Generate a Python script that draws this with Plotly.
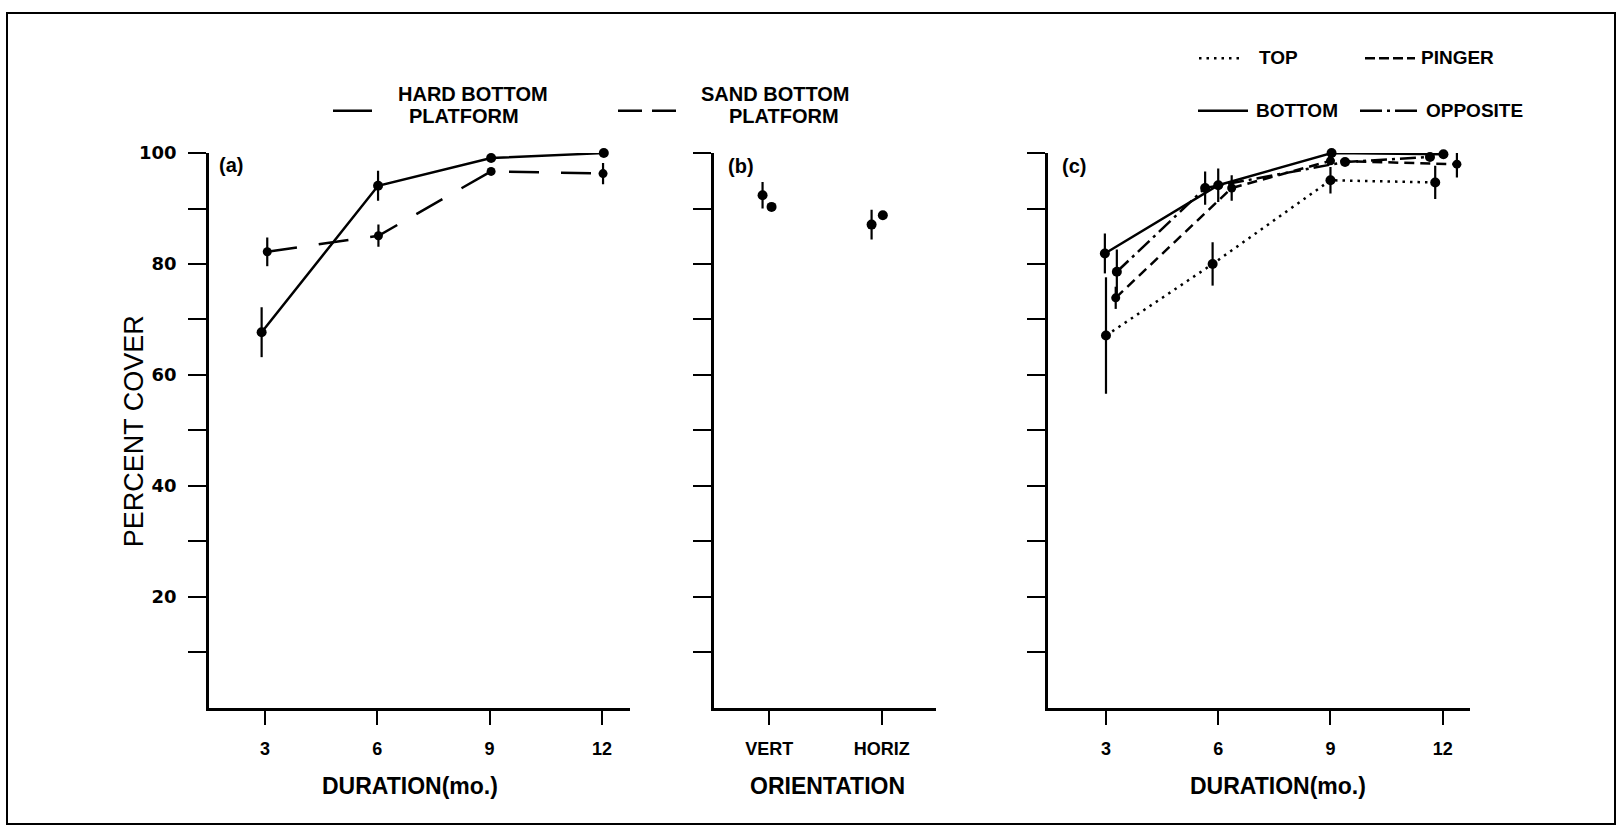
import plotly.graph_objects as go

W, H = 1621, 828

# ---- data -------------------------------------------------------------
duration = [3, 6, 9, 12]

# (a) cover by exposure duration for the two platforms
hard_cover = [67.7, 94.1, 99.1, 100.0]
hard_err = [4.5, 2.7, 0.0, 0.0]
sand_cover = [82.2, 85.1, 96.7, 96.3]
sand_err = [2.6, 2.0, 0.0, 1.9]

# (b) cover by panel orientation
orientation = ["VERT", "HORIZ"]
orient_hard_cover = [92.4, 87.1]
orient_hard_err = [2.4, 2.7]
orient_sand_cover = [90.3, 88.8]
orient_sand_err = [0.0, 0.0]

# (c) cover by position on the platform
top_cover = [67.1, 80.0, 95.1, 94.7]
top_err = [10.5, 3.9, 2.4, 3.0]
bottom_cover = [81.9, 94.2, 100.0, 99.8]
bottom_err = [3.6, 3.0, 0.0, 0.0]
pinger_cover = [73.9, 93.7, 98.6, 98.0]
pinger_err = [2.0, 2.3, 0.0, 2.4]
opposite_cover = [78.6, 93.7, 98.4, 99.3]
opposite_err = [4.0, 3.0, 0.0, 0.0]

y_tick_values = [10, 20, 30, 40, 50, 60, 70, 80, 90, 100]
y_tick_labels = ["", "20", "", "40", "", "60", "", "80", "", "100"]
x_tick_values = [3, 6, 9, 12]

# ---- styling ----------------------------------------------------------
INK = "black"
LW = 2.5
SANS = "Liberation Sans, Arial, sans-serif"
WIDE = "DejaVu Sans, Verdana, sans-serif"

# small horizontal dodges so overlapping means stay visible
dodge_a = {"hard": [-0.09, 0.02, 0.04, 0.05], "sand": [0.06, 0.03, 0.04, 0.03]}
dodge_b = {"hard": [-0.06, -0.09], "sand": [0.02, 0.01]}
dodge_c = {
    "top": [0.0, -0.15, 0.0, -0.2],
    "bottom": [-0.03, 0.0, 0.03, 0.02],
    "pinger": [0.26, 0.36, 0.0, 0.38],
    "opposite": [0.29, -0.35, 0.39, -0.34],
}


def shift(xs, d):
    return [x + o for x, o in zip(xs, d)]


def series(x, y, err, dash, xa, ya, size=10, mode="lines+markers"):
    return go.Scatter(
        x=x, y=y, mode=mode, xaxis=xa, yaxis=ya,
        line=dict(color=INK, width=LW, dash=dash),
        marker=dict(color=INK, size=size),
        error_y=dict(type="data", array=err, thickness=2.2, width=0, color=INK),
        cliponaxis=False, showlegend=False,
    )


fig = go.Figure()

# (a)
fig.add_trace(series(shift(duration, dodge_a["hard"]), hard_cover, hard_err, "solid", "x", "y"))
fig.add_trace(series(shift(duration, dodge_a["sand"]), sand_cover, sand_err, "30px,22px", "x", "y", size=9))

# (b)
cat_pos = list(range(len(orientation)))
fig.add_trace(series(shift(cat_pos, dodge_b["hard"]), orient_hard_cover, orient_hard_err, "solid", "x2", "y2", mode="markers"))
fig.add_trace(series(shift(cat_pos, dodge_b["sand"]), orient_sand_cover, orient_sand_err, "solid", "x2", "y2", mode="markers"))

# (c)
fig.add_trace(series(shift(duration, dodge_c["top"]), top_cover, top_err, "2.5px,5px", "x3", "y3"))
fig.add_trace(series(shift(duration, dodge_c["pinger"]), pinger_cover, pinger_err, "10px,6px", "x3", "y3", size=9))
fig.add_trace(series(shift(duration, dodge_c["opposite"]), opposite_cover, opposite_err, "16px,5px,3px,5px", "x3", "y3"))
fig.add_trace(series(shift(duration, dodge_c["bottom"]), bottom_cover, bottom_err, "solid", "x3", "y3"))


def px(x):
    return x / W


def py(y):
    return 1 - y / H


ydom = [py(706), py(144)]
axis_common = dict(
    showline=True, linecolor=INK, linewidth=LW, mirror=False,
    ticks="outside", tickcolor=INK, tickwidth=2,
    showgrid=False, zeroline=False, fixedrange=True,
)
yaxis_common = dict(
    axis_common, range=[0, 100], domain=ydom, tickvals=y_tick_values,
    ticklen=18, ticktext=[""] * len(y_tick_values),
    tickfont=dict(family=WIDE, size=18, color=INK, weight="bold"),
    ticklabelstandoff=8,
)
xaxis_common = dict(
    axis_common, ticklen=15, ticklabelstandoff=8,
    tickfont=dict(family=SANS, size=18, color=INK, weight="bold"),
)

fig.update_layout(
    width=W, height=H,
    margin=dict(l=0, r=0, t=0, b=0),
    paper_bgcolor="white", plot_bgcolor="white",
    xaxis=dict(xaxis_common, domain=[px(209), px(630)], range=[1.504, 12.75],
               tickvals=x_tick_values, anchor="y"),
    yaxis=dict(yaxis_common, ticktext=y_tick_labels, anchor="x"),
    xaxis2=dict(xaxis_common, domain=[px(714), px(936)], range=[-0.492, 1.483],
                tickvals=cat_pos, ticktext=orientation, anchor="y2"),
    yaxis2=dict(yaxis_common, anchor="x2"),
    xaxis3=dict(xaxis_common, domain=[px(1048), px(1470)], range=[1.45, 12.73],
                tickvals=x_tick_values, anchor="y3"),
    yaxis3=dict(yaxis_common, anchor="x3"),
)

ann = []


def text(x, y, s, size, family=SANS, bold=True, xanchor="center", angle=0):
    ann.append(dict(
        x=px(x), y=py(y), xref="paper", yref="paper", text=s, showarrow=False,
        xanchor=xanchor, yanchor="middle", textangle=angle,
        font=dict(family=family, size=size, color=INK, weight="bold" if bold else "normal"),
    ))


# axis titles
text(410, 785, "DURATION(mo.)", 23)
text(827, 785, "ORIENTATION", 23)
text(1278, 785, "DURATION(mo.)", 23)
text(134, 426, "PERCENT COVER", 27, bold=False, angle=-90)

# panel letters
text(217, 156, "(a)", 20, xanchor="left")
text(726, 157, "(b)", 20, xanchor="left")
text(1060, 157, "(c)", 20, xanchor="left")

# platform key
text(473, 84, "HARD BOTTOM", 20)
text(464, 106, "PLATFORM", 20)
text(775, 84, "SAND BOTTOM", 20)
text(784, 106, "PLATFORM", 20)

# position key
text(1257, 47, "TOP", 19, xanchor="left")
text(1419, 47, "PINGER", 19, xanchor="left")
text(1254, 101, "BOTTOM", 19, xanchor="left")
text(1424, 101, "OPPOSITE", 19, xanchor="left")

shapes = []


def key_line(x0, x1, y, dash):
    shapes.append(dict(type="line", xref="paper", yref="paper",
                       x0=px(x0), x1=px(x1), y0=py(y), y1=py(y),
                       line=dict(color=INK, width=LW, dash=dash)))


key_line(333, 372, 101, "solid")
key_line(618, 685, 101, "24px,10px")
key_line(1199, 1242, 48, "2.5px,5px")
key_line(1365, 1415, 48, "10px,4px")
key_line(1198, 1248, 101, "solid")
key_line(1360, 1417, 101, "22px,5px,3px,5px")

# outer frame
shapes.append(dict(type="rect", xref="paper", yref="paper",
                   x0=px(7), x1=px(1615), y0=py(824), y1=py(2),
                   line=dict(color=INK, width=2)))

fig.update_layout(annotations=ann, shapes=shapes)

# keep the figure flush with the page edges
page_css = (
    "document.body.style.margin='0';"
    "document.body.style.padding='0';"
    "document.body.style.overflow='hidden';"
)

fig.write_html("out.html", post_script=page_css)
